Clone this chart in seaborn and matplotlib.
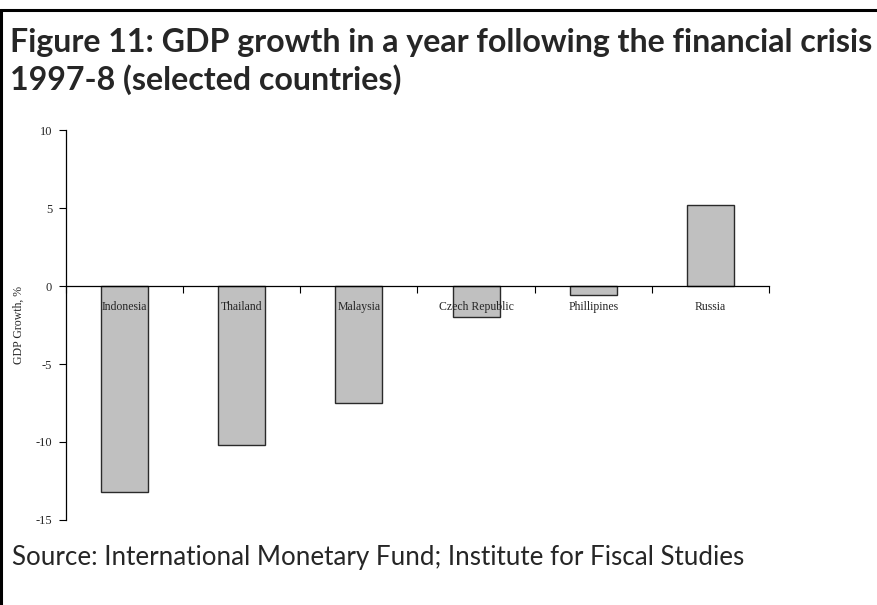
import matplotlib
matplotlib.use("Agg")
import matplotlib.pyplot as plt
import seaborn as sns
import pandas as pd
from matplotlib.lines import Line2D
from matplotlib.ticker import FixedLocator

countries = ["Indonesia", "Thailand", "Malaysia", "Czech Republic", "Phillipines", "Russia"]
growth = [-13.2, -10.2, -7.5, -2.0, -0.6, 5.2]
yticks = [-15, -10, -5, 0, 5, 10]
title = "Figure 11: GDP growth in a year following the financial crisis\n1997-8 (selected countries)"
source = "Source: International Monetary Fund; Institute for Fiscal Studies"
ylabel = "GDP Growth, %"

df = pd.DataFrame({"country": countries, "growth": growth})

sns.set_theme(style="white")
plt.rcParams["axes.unicode_minus"] = False
serif = ["Liberation Serif", "DejaVu Serif"]
title_fam = ["Lato", "DejaVu Sans"]
src_fam = ["Lato", "DejaVu Sans"]

W, H = 878, 605
fig = plt.figure(figsize=(W / 100, H / 100), dpi=100)
ax = fig.add_axes([66 / W, 1 - 520 / H, (769 - 66) / W, (520 - 130) / H])

sns.barplot(data=df, x="country", y="growth", ax=ax, color="#c0c0c0",
            edgecolor="#2a2a2a", linewidth=1.0, width=0.4, saturation=1)
ax.set_axisbelow(False)

ax.set_xlim(-0.5, len(countries) - 0.5)
ax.set_ylim(-15, 10)
ax.set_yticks(yticks)
ax.set_yticklabels([str(v) for v in yticks], fontfamily=serif, fontsize=9)
ax.tick_params(axis="y", direction="out", length=5, width=0.8, color="black", pad=5, left=True)

ax.spines["top"].set_visible(False)
ax.spines["right"].set_visible(False)
ax.spines["left"].set_color("black")
ax.spines["left"].set_linewidth(0.9)
ax.spines["bottom"].set_position(("data", 0))
ax.spines["bottom"].set_color("black")
ax.spines["bottom"].set_linewidth(0.9)

ax.set_xticks(range(len(countries)))
ax.set_xticklabels(countries, fontfamily=serif, fontsize=8.5)
ax.tick_params(axis="x", which="major", length=0, pad=11, bottom=True)
ax.xaxis.set_minor_locator(FixedLocator([i - 0.5 for i in range(len(countries) + 1)]))
ax.tick_params(axis="x", which="minor", direction="out", length=5, width=0.8, color="black", bottom=True)

ax.set_xlabel("")
ax.set_ylabel(ylabel, fontfamily=serif, fontsize=8.5)
ax.yaxis.set_label_coords(-0.058, 0.5)
ax.grid(False)

# title and source
t = fig.text(10 / W, 1 - 28 / H, title, ha="left", va="top", fontsize=21,
             fontweight="bold", family=title_fam, linespacing=1.3)
s = fig.text(12 / W, 1 - 557 / H, source, ha="left", va="center", fontsize=16,
             family=src_fam)

fig.canvas.draw()
r = fig.canvas.get_renderer()
first = fig.text(0, 0, title.split("\n")[0], fontsize=21, fontweight="bold", family=title_fam)
w1 = first.get_window_extent(r).width
first.remove()
t.set_fontsize(21 * 862 / w1)
ws = s.get_window_extent(r).width
s.set_fontsize(16 * 733 / ws)

# frame lines
fig.add_artist(Line2D([0, 1], [1 - 10 / H, 1 - 10 / H], transform=fig.transFigure,
                      color="black", linewidth=2.2))
fig.add_artist(Line2D([1.5 / W, 1.5 / W], [0, 1 - 10 / H], transform=fig.transFigure,
                      color="black", linewidth=2.2))

fig.savefig("out.png", dpi=100, facecolor="white")
